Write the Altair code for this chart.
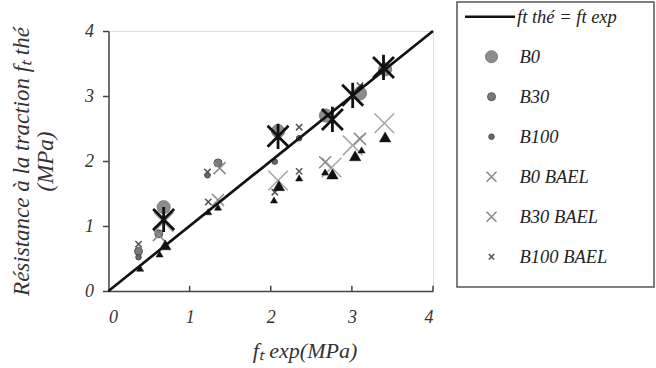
import altair as alt
import pandas as pd

# Experimental vs. theoretical tensile strength (MPa)
b0_x = [0.68, 2.09, 2.68, 3.10, 3.41]
b0_y = [1.29, 2.46, 2.70, 3.04, 3.41]

b30_x = [0.37, 0.62, 1.35]
b30_y = [0.61, 0.88, 1.97]

b100_x = [0.37, 1.22, 2.05, 2.35]
b100_y = [0.52, 1.78, 1.99, 2.35]

b0_bael_x = [0.68, 2.09, 2.75, 3.01, 3.40]
b0_bael_y = [1.06, 1.70, 1.90, 2.24, 2.58]

b30_bael_x = [0.62, 1.35, 1.37, 2.67, 3.10]
b30_bael_y = [0.86, 1.40, 1.89, 1.98, 2.34]

b100_bael_x = [0.37, 1.22, 2.35, 3.10, 1.23, 2.05, 2.35]
b100_bael_y = [0.72, 1.83, 2.52, 3.16, 1.37, 1.52, 1.84]

star_x = [0.68, 2.09, 2.76, 3.01, 3.39]
star_y = [1.10, 2.38, 2.64, 3.01, 3.44]

tri_big_x = [0.70, 2.10, 2.76, 3.04, 3.41]
tri_big_y = [0.71, 1.62, 1.80, 2.08, 2.37]

tri_small_x = [0.39, 0.63, 1.23, 1.35, 2.04, 2.35, 2.67, 3.12]
tri_small_y = [0.35, 0.57, 1.22, 1.29, 1.40, 1.74, 1.83, 2.17]

line_x = [0, 4]
line_y = [0, 4]

tick_values = [0, 1, 2, 3, 4]
inner_ticks = [1, 2, 3, 4]

legend_labels = ["ft thé = ft exp", "B0", "B30", "B100", "B0 BAEL", "B30 BAEL", "B100 BAEL"]

FONT = "Liberation Serif"
X_PATH = "M-1,-1L1,1M-1,1L1,-1"
STAR_PATH = "M-1,-1L1,1M-1,1L1,-1M0,-1.2L0,1.2"


def frame(xs, ys):
    return pd.DataFrame({"x": xs, "y": ys})


xenc = alt.X(
    "x:Q",
    scale=alt.Scale(domain=[0, 4], nice=False),
    axis=alt.Axis(
        values=tick_values, format="d", ticks=False, grid=False,
        domainColor="#444", domainWidth=1.5,
        labelFont=FONT, labelFontStyle="italic", labelFontSize=18,
        labelColor="#333", labelPadding=17,
        title="fₜ exp(MPa)", titleFont=FONT, titleFontStyle="italic",
        titleFontWeight="normal", titleFontSize=22, titleColor="#333",
        titlePadding=14, titleX=196,
    ),
)
yenc = alt.Y(
    "y:Q",
    scale=alt.Scale(domain=[0, 4], nice=False),
    axis=alt.Axis(
        values=tick_values, format="d", grid=False,
        tickSize=6, tickColor="#444", tickWidth=1.5,
        domainColor="#444", domainWidth=1.5,
        labelFont=FONT, labelFontStyle="italic", labelFontSize=18,
        labelColor="#333", labelPadding=9,
        title=["Résistance à la traction fₜ thé", "(MPa)"],
        titleFont=FONT, titleFontStyle="italic", titleFontWeight="normal",
        titleFontSize=23, titleColor="#333", titleLineHeight=24,
        titlePadding=27,
    ),
)


def circles(xs, ys, size, fill, stroke):
    return alt.Chart(frame(xs, ys)).mark_point(
        shape="circle", filled=True, size=size, fill=fill, stroke=stroke,
        strokeWidth=1, opacity=1,
    ).encode(x=xenc, y=yenc)


def crosses(xs, ys, size, color, width):
    return alt.Chart(frame(xs, ys)).mark_point(
        shape=X_PATH, filled=False, size=size, stroke=color,
        strokeWidth=width, opacity=1,
    ).encode(x=xenc, y=yenc)


def triangles(xs, ys, size):
    return alt.Chart(frame(xs, ys)).mark_point(
        shape="triangle-up", filled=True, size=size, fill="#111",
        stroke="#111", strokeWidth=0.5, opacity=1,
    ).encode(x=xenc, y=yenc)


ticks = alt.Chart(pd.DataFrame({"x": inner_ticks})).mark_rule(
    color="#444", strokeWidth=1.5
).encode(x=xenc, y=alt.datum(0, type="quantitative"), y2=alt.datum(0.08))

diag = alt.Chart(frame(line_x, line_y)).mark_line(
    color="#111", strokeWidth=2.7
).encode(x=xenc, y=yenc)

stars = alt.Chart(frame(star_x, star_y)).mark_point(
    shape=STAR_PATH, filled=False, size=440, stroke="#111",
    strokeWidth=2.8, opacity=1,
).encode(x=xenc, y=yenc)

plot_layers = [
    circles(b0_x, b0_y, 170, "#8c8c8c", "#7a7a7a"),
    circles(b30_x, b30_y, 64, "#7a7a7a", "#555"),
    circles(b100_x, b100_y, 30, "#6a6a6a", "#444"),
    crosses(b0_bael_x, b0_bael_y, 380, "#a5a5a5", 1.5),
    crosses(b30_bael_x, b30_bael_y, 144, "#8a8a8a", 1.5),
    crosses(b100_bael_x, b100_bael_y, 40, "#555", 1.5),
    triangles(tri_small_x, tri_small_y, 50),
    triangles(tri_big_x, tri_big_y, 130),
    diag,
    stars,
    ticks,
]

# Legend panel drawn to the right of the plot area (pixel offsets from the plot origin)
ROW0 = -14.3
ROW_STEP = 40
MARK_X = 383
LABEL_X = 411

one = pd.DataFrame({"k": [0]})
legend_layers = [
    alt.Chart(one).mark_rect(
        fill="white", fillOpacity=0, stroke="#555", strokeWidth=1.5
    ).encode(x=alt.value(348.5), x2=alt.value(545.5),
             y=alt.value(-29), y2=alt.value(256)),
    alt.Chart(one).mark_rule(color="#111", strokeWidth=2.5).encode(
        x=alt.value(356.5), x2=alt.value(406.5),
        y=alt.value(ROW0), y2=alt.value(ROW0)),
]

legend_marks = [
    None,
    dict(shape="circle", filled=True, size=144, fill="#8c8c8c", stroke="#7a7a7a", strokeWidth=1),
    dict(shape="circle", filled=True, size=64, fill="#7a7a7a", stroke="#555", strokeWidth=1),
    dict(shape="circle", filled=True, size=30, fill="#6a6a6a", stroke="#444", strokeWidth=1),
    dict(shape=X_PATH, filled=False, size=100, stroke="#8a8a8a", strokeWidth=1.5),
    dict(shape=X_PATH, filled=False, size=100, stroke="#8a8a8a", strokeWidth=1.5),
    dict(shape=X_PATH, filled=False, size=30, stroke="#555", strokeWidth=1.5),
]

for i, label in enumerate(legend_labels):
    row_y = ROW0 + ROW_STEP * i
    lab = pd.DataFrame({"label": [label]})
    if legend_marks[i] is not None:
        legend_layers.append(
            alt.Chart(lab).mark_point(opacity=1, **legend_marks[i]).encode(
                x=alt.value(MARK_X), y=alt.value(row_y))
        )
    legend_layers.append(
        alt.Chart(lab).mark_text(
            align="left", baseline="middle", font=FONT, fontStyle="italic",
            fontSize=18.5, color="#222",
        ).encode(
            x=alt.value(408.5 if i == 0 else LABEL_X), y=alt.value(row_y),
            text="label:N",
        )
    )

chart = alt.layer(*plot_layers, *legend_layers).properties(
    width=324.5,
    height=260,
    autosize="none",
    padding={"left": 108.5, "top": 31, "right": 223, "bottom": 77},
).configure_view(stroke=None).configure(background="white")

chart.save("out.html", embed_options={"renderer": "svg", "actions": False})
